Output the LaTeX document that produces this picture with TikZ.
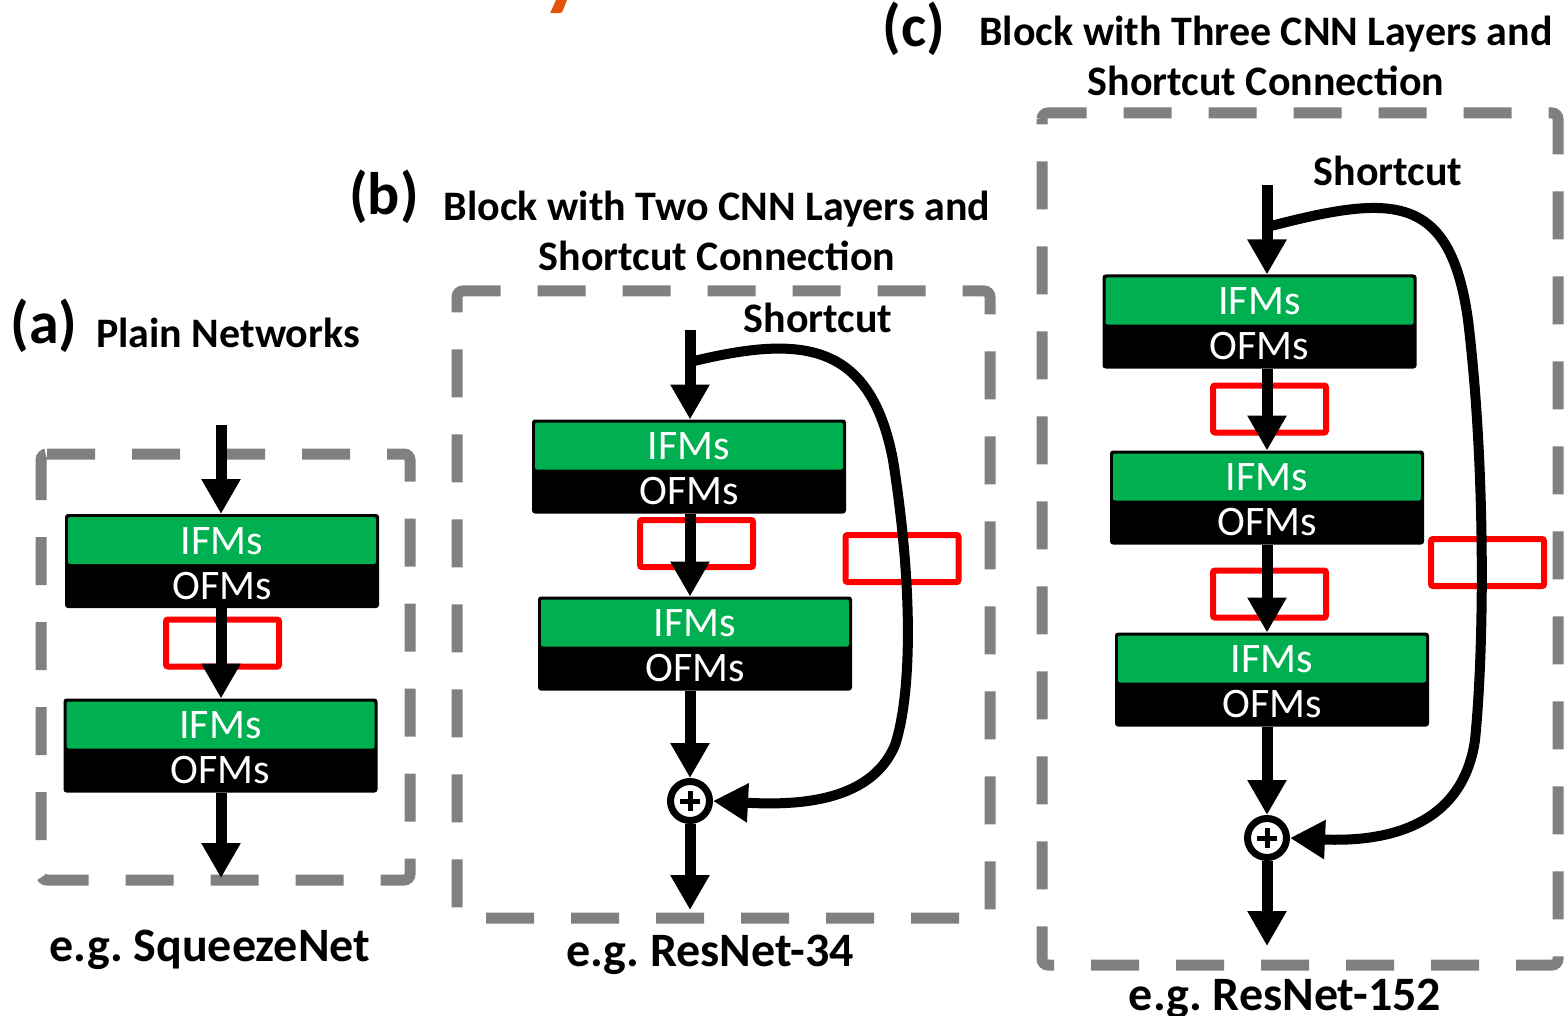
\documentclass[tikz,border=0pt]{standalone}
\usepackage{fontspec}
\setmainfont{Carlito}
\usetikzlibrary{arrows.meta,shadows}
\definecolor{ifmgreen}{RGB}{0,176,80}
\definecolor{framegray}{RGB}{128,128,128}
\definecolor{headorange}{RGB}{226,83,9}
\definecolor{markred}{RGB}{255,0,0}

\begin{document}
\frenchspacing
\begin{tikzpicture}[x=1pt,y=-1pt,
  fmbox/.style={rectangle, fill=black, rounded corners=3pt, minimum width=314pt,
    minimum height=94pt, inner sep=0pt, outer sep=0pt,
    path picture={\fill[ifmgreen, rounded corners=2pt]
      ([xshift=3pt,yshift=-3pt]path picture bounding box.north west) rectangle
      ([xshift=-3pt,yshift=44pt]path picture bounding box.south east);}},
  maptext/.style={text=white, font=\fontsize{42}{50}\selectfont, inner sep=0pt},
  headtext/.style={font=\bfseries\fontsize{42}{50}\selectfont, inner sep=0pt, anchor=base},
  tagtext/.style={font=\bfseries\fontsize{60}{70}\selectfont, inner sep=0pt},
  capttext/.style={font=\bfseries\fontsize{48}{56}\selectfont, inner sep=0pt, anchor=base},
  groupframe/.style={draw=framegray, line width=11pt, dash pattern=on 48pt off 37pt,
    rounded corners=6pt},
  flowarrow/.style={line width=11pt, -{Triangle[width=37pt,length=35pt]}},
  shortcutline/.style={line width=10pt, -{Triangle[width=37pt,length=35pt]}},
  adder/.style={circle, draw, line width=7pt, minimum size=39pt, inner sep=0pt, fill=white,
    path picture={\draw[line width=5pt]
      ([xshift=-10pt]path picture bounding box.center) --
      ([xshift=10pt]path picture bounding box.center)
      ([yshift=-10pt]path picture bounding box.center) --
      ([yshift=10pt]path picture bounding box.center);}},
  redframe/.style={draw=markred, line width=6pt, fill=white, rounded corners=2pt,
    minimum width=113pt, minimum height=47pt, inner sep=0pt,
    drop shadow={opacity=0.22, shadow xshift=2pt, shadow yshift=-3pt}}
]
\useasboundingbox (0,0) rectangle (1566,1016);

% tail of the heading above, cut by the page edge
\begin{scope}
  \clip (0,0) rectangle (1566,1016);
  \node[anchor=base west, inner sep=0pt, text=headorange,
        font=\bfseries\fontsize{96}{106}\selectfont] (cutword) at (541,-1) {y};
\end{scope}

% ---------------- dashed group frames ----------------
\draw[groupframe] (41,454) -- (410,454) -- (410,880) -- (41,880) -- cycle;
\draw[groupframe] (457,302) -- (457,291) -- (990,291) -- (990,918) -- (457,918) -- cycle;
\draw[groupframe] (1042,125) -- (1042,113) -- (1558,113) -- (1558,965) -- (1042,965) -- cycle;

% ---------------- headings ----------------
\node[tagtext] (taga) at (44,326) {(a)};
\node[headtext] (heada) at (228,347) {Plain Networks};
\node[tagtext] (tagb) at (384,197) {(b)};
\node[headtext] (headb1) at (717,221) {Block with Two CNN Layers and};
\node[headtext] (headb2) at (717,271) {Shortcut Connection};
\node[tagtext] (tagc) at (914,29) {(c)};
\node[headtext] (headc1) at (1266,46) {Block with Three CNN Layers and};
\node[headtext] (headc2) at (1266,96) {Shortcut Connection};

% ---------------- red markers ----------------
\node[redframe] (ra)  at (222.5,643) {};
\node[redframe] (rb1) at (696.5,543.5) {};
\node[redframe] (rb2) at (902,558.5) {};
\node[redframe] (rc1) at (1269.5,409) {};
\node[redframe] (rc2) at (1269.5,594) {};
\node[redframe] (rc3) at (1487.5,562.5) {};

% ---------------- (a) plain network ----------------
\node[fmbox] (a1) at (222,561) {};
\node[maptext] (a1i) at ([yshift=20pt]a1.center) {IFMs};
\node[maptext] (a1o) at ([yshift=-25pt]a1.center) {OFMs};
\node[fmbox] (a2) at (220.5,745.5) {};
\node[maptext] (a2i) at ([yshift=20pt]a2.center) {IFMs};
\node[maptext] (a2o) at ([yshift=-25pt]a2.center) {OFMs};
\coordinate (ain) at (221,425);
\coordinate (aout) at (221,878);
\draw[flowarrow] (ain) -- (ain |- a1.north);
\draw[flowarrow] (ain |- a1.south) -- (ain |- a2.north);
\draw[flowarrow] (ain |- a2.south) -- (aout);
\node[capttext] (capa) at (210,961) {e.g. SqueezeNet};

% ---------------- (b) two-layer block ----------------
\node[fmbox] (b1) at (689,466.5) {};
\node[maptext] (b1i) at ([yshift=20pt]b1.center) {IFMs};
\node[maptext] (b1o) at ([yshift=-25pt]b1.center) {OFMs};
\node[fmbox] (b2) at (695,643.5) {};
\node[maptext] (b2i) at ([yshift=20pt]b2.center) {IFMs};
\node[maptext] (b2o) at ([yshift=-25pt]b2.center) {OFMs};
\node[adder] (bsum) at (690,801) {};
\coordinate (bin) at (690,330);
\coordinate (bsplit) at (690,362);
\coordinate (bout) at (690,910);
\draw[flowarrow] (bin) -- (bin |- b1.north);
\draw[flowarrow] (bin |- b1.south) -- (bin |- b2.north);
\draw[flowarrow] (bin |- b2.south) -- (bsum.north);
\draw[flowarrow] (bsum.south) -- (bout);
\draw[shortcutline] (bsplit) .. controls (800,335) and (870,340) .. (893,460)
  .. controls (915,600) and (910,700) .. (895,745)
  .. controls (870,805) and (790,805) .. (bsum.east);
\node[headtext] (scb) at (818,333) {Shortcut};
\node[capttext] (capb) at (710,966) {e.g. ResNet-34};

% ---------------- (c) three-layer block ----------------
\node[fmbox] (c1) at (1259.5,321.5) {};
\node[maptext] (c1i) at ([yshift=20pt]c1.center) {IFMs};
\node[maptext] (c1o) at ([yshift=-25pt]c1.center) {OFMs};
\node[fmbox] (c2) at (1267,497.5) {};
\node[maptext] (c2i) at ([yshift=20pt]c2.center) {IFMs};
\node[maptext] (c2o) at ([yshift=-25pt]c2.center) {OFMs};
\node[fmbox] (c3) at (1272,679.5) {};
\node[maptext] (c3i) at ([yshift=20pt]c3.center) {IFMs};
\node[maptext] (c3o) at ([yshift=-25pt]c3.center) {OFMs};
\node[adder] (csum) at (1267,838) {};
\coordinate (cin) at (1267,185);
\coordinate (csplit) at (1267,227);
\coordinate (cout) at (1267,946);
\draw[flowarrow] (cin) -- (cin |- c1.north);
\draw[flowarrow] (cin |- c1.south) -- (cin |- c2.north);
\draw[flowarrow] (cin |- c2.south) -- (cin |- c3.north);
\draw[flowarrow] (cin |- c3.south) -- (csum.north);
\draw[flowarrow] (csum.south) -- (cout);
\draw[shortcutline] (csplit) .. controls (1390,195) and (1450,190) .. (1468,320)
  .. controls (1485,460) and (1485,640) .. (1475,740)
  .. controls (1462,830) and (1380,842) .. (csum.east);
\node[headtext] (scc) at (1388,186) {Shortcut};
\node[capttext] (capc) at (1285,1010) {e.g. ResNet-152};
\end{tikzpicture}
\end{document}
